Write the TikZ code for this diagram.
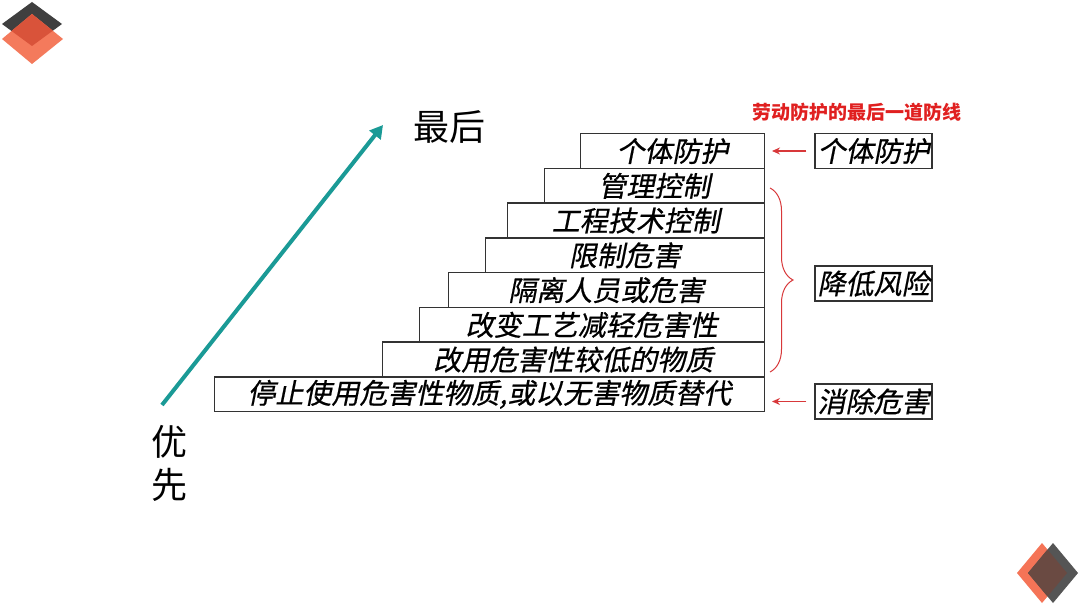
\documentclass[tikz,border=0pt]{standalone}
\usepackage{fontspec}
\setmainfont{Noto Sans CJK SC}
\newfontfamily\slantcjk[FakeSlant=0.2,FakeBold=0.6]{Noto Sans CJK SC}
\usetikzlibrary{arrows.meta,decorations.pathreplacing}
\definecolor{arrowteal}{HTML}{1A9A96}
\definecolor{bracered}{HTML}{D8383A}
\definecolor{titlered}{HTML}{E02020}
\definecolor{diadark}{HTML}{3F3F3F}
\definecolor{diagray}{HTML}{555555}
\definecolor{diaorange}{HTML}{F47A5C}
\definecolor{diared}{HTML}{D9533A}
\definecolor{diabrown}{HTML}{6A4A42}

\begin{document}
\begin{tikzpicture}[x=0.5pt,y=-0.5pt,
	stepbox/.style={draw=black!80, line width=0.7pt, inner sep=0pt, minimum height=17.4pt, anchor=north east, font=\fontsize{14}{14}\slantcjk},
	tagbox/.style={draw=black!80, line width=0.7pt, inner sep=0pt, minimum width=58.5pt, minimum height=17.5pt, font=\fontsize{14}{14}\slantcjk},
	redarrow/.style={bracered, line width=0.6pt, -{Stealth[length=4pt,width=3.5pt]}, shorten <=4pt, shorten >=3.5pt}]
	\useasboundingbox[fill=white] (0,0) rectangle (1080,608);

	% corner marks
	\fill[diadark] (32,2) -- (62,24) -- (32,46) -- (2,24) -- cycle;
	\fill[diaorange] (32,14) -- (63,39) -- (32,64) -- (2,39) -- cycle;
	\begin{scope}
		\clip (32,2) -- (62,24) -- (32,46) -- (2,24) -- cycle;
		\fill[diared] (32,14) -- (63,39) -- (32,64) -- (2,39) -- cycle;
	\end{scope}
	\fill[diaorange!95!red] (1042,543) -- (1067,573) -- (1042,603) -- (1017,573) -- cycle;
	\fill[diagray] (1053,543) -- (1078,573) -- (1053,603) -- (1028,573) -- cycle;
	\begin{scope}
		\clip (1042,543) -- (1067,573) -- (1042,603) -- (1017,573) -- cycle;
		\fill[diabrown] (1053,543) -- (1078,573) -- (1053,603) -- (1028,573) -- cycle;
	\end{scope}

	% priority arrow
	\coordinate (lo) at (162,405);
	\coordinate (hi) at (383,125);
	\draw[arrowteal, line width=2pt, -{Triangle[length=6.5pt,width=7pt]}] (lo) -- (hi);
	\node[font=\fontsize{18}{18}\selectfont] (last) at (449,127) {最后};
	\node[font=\fontsize{18}{21.5}\selectfont, align=center] (first) at (169,463) {优\\先};

	% stairs
	\foreach \l/\t [count=\i] in {581/个体防护, 545/管理控制, 508/工程技术控制, 486/限制危害, 449/隔离人员或危害, 420/改变工艺减轻危害性, 383/改用危害性较低的物质, 215/{停止使用危害性物质,或以无害物质替代}}
		\node[stepbox, minimum width={(765-\l)*0.5pt}] (s\i) at (765,{133+(\i-1)*34.75}) {\t};

	% labels on the right
	\node[text=titlered, font=\fontsize{9.5}{9.5}\bfseries] (title) at (857,112) {劳动防护的最后一道防线};
	\node[tagbox] (t1) at (873.5,151) {个体防护};
	\node[tagbox] (t2) at (873.5,283.5) {降低风险};
	\node[tagbox] (t3) at (873.5,401.5) {消除危害};
	\draw[redarrow] (t1.west) -- (t1.west -| s1.east);
	\draw[redarrow] (t3.west) -- (t3.west -| s8.east);
	\coordinate (b1) at (770,188);
	\coordinate (b2) at (770,372);
	\draw[bracered, line width=0.5pt, decorate, decoration={brace, amplitude=11.5pt}] (b1) -- (b2);
\end{tikzpicture}
\end{document}
